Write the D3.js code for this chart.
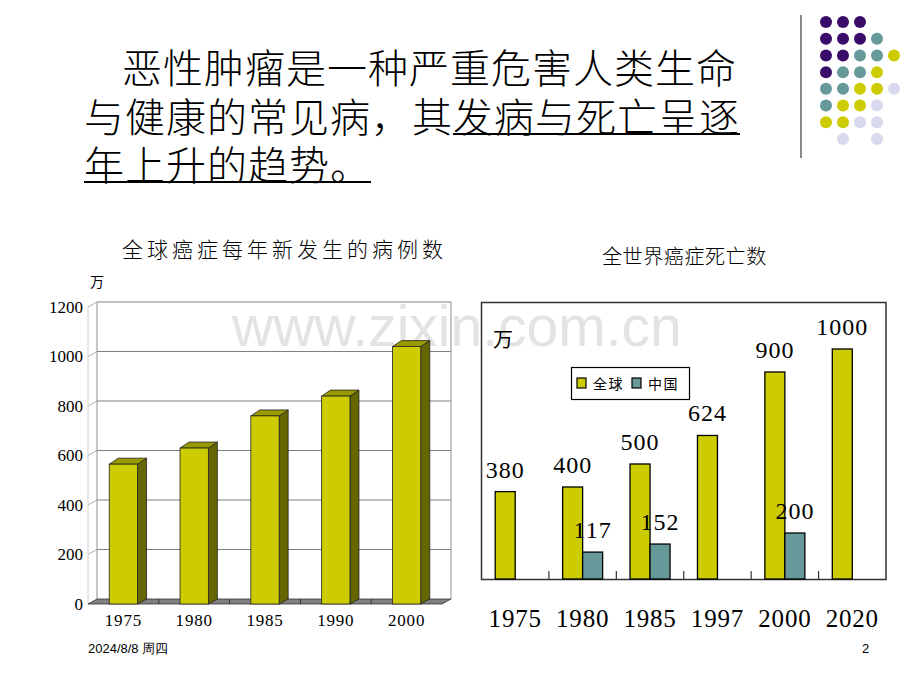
<!DOCTYPE html>
<html><head><meta charset="utf-8">
<script src="https://cdn.jsdelivr.net/npm/d3@7"></script>
<style>body{margin:0;background:#fff}svg{display:block}</style>
</head><body>
<svg id="c" width="920" height="690"></svg>
<script>
// ---- data ----
const headlineLines = ["恶性肿瘤是一种严重危害人类生命", "与健康的常见病，其发病与死亡呈逐", "年上升的趋势。"];
const leftTitle = "全球癌症每年新发生的病例数";
const rightTitle = "全世界癌症死亡数";
const unitLabel = "万";
const newCaseYears = ["1975", "1980", "1985", "1990", "2000"];
const newCases = [565, 630, 760, 840, 1040];
const newCaseTicks = [0, 200, 400, 600, 800, 1000, 1200];
const deathYears = ["1975", "1980", "1985", "1997", "2000", "2020"];
const seriesNames = ["全球", "中国"];
const deathsGlobal = [380, 400, 500, 624, 900, 1000];
const deathsChina = [null, 117, 152, null, 200, null];
const footerDate = "2024/8/8 周四";
const pageNumber = "2";
const dotRows = ["PPP..", "PPPT.", "PPTTY", "PTTY.", "TTYYL", "TYYL.", "YYLL.", ".L.L."];

const C = {yellow: "#cccc00", top: "#999900", side: "#666600", teal: "#669999",
  P: "#3a0c6a", T: "#669999", Y: "#cccc00", L: "#d8d8ee"};
const CJK = "'Noto Sans CJK SC', sans-serif";
const SERIF = "'Liberation Serif', 'DejaVu Serif', serif";

const svg = d3.select("#c");

// ---- decoration ----
svg.append("line").attr("x1", 801).attr("x2", 801).attr("y1", 15).attr("y2", 158)
  .attr("stroke", "#8a8a8a").attr("stroke-width", 2);
const dx = d3.scalePoint().domain(d3.range(5)).range([826, 894]);
const dy = d3.scalePoint().domain(d3.range(8)).range([22, 139]);
dotRows.forEach((row, r) => row.split("").forEach((ch, c) => {
  if (ch !== ".") svg.append("circle").attr("cx", dx(c)).attr("cy", dy(r)).attr("r", 6).attr("fill", C[ch]);
}));

// ---- headline ----
const hl = svg.append("g").attr("font-family", CJK).attr("font-size", 40).attr("font-weight", 300).attr("fill", "#000");
const hlX = [122, 84, 84], hlY = [66, 115, 163];
const lineEls = headlineLines.map((t, i) => hl.append("text").attr("x", hlX[i]).attr("y", hlY[i])
  .attr("dominant-baseline", "central").attr("letter-spacing", 1).text(t));
{
  const el2 = lineEls[1].node();
  const s = el2.getStartPositionOfChar(9).x;
  const e = hlX[1] + el2.getComputedTextLength();
  hl.append("line").attr("x1", s).attr("x2", e).attr("y1", 134).attr("y2", 134).attr("stroke", "#000").attr("stroke-width", 2);
  const e3 = hlX[2] + lineEls[2].node().getComputedTextLength();
  hl.append("line").attr("x1", hlX[2]).attr("x2", e3).attr("y1", 182).attr("y2", 182).attr("stroke", "#000").attr("stroke-width", 2);
}

// ---- watermark ----
svg.append("text").attr("x", 232).attr("y", 346).attr("font-family", "'Liberation Sans', Arial, sans-serif")
  .attr("font-size", 57).attr("fill", "#e3e3e3").text("www.zixin.com.cn");

// ---- left 3D chart ----
const DX = 9, DY = -5;
const xL = d3.scaleBand().domain(newCaseYears).range([88, 442]);
const yL = d3.scaleLinear().domain([0, 1200]).range([604, 307]);
const gL = svg.append("g");
svg.append("text").attr("x", 122).attr("y", 257).attr("font-family", CJK).attr("font-size", 21)
  .attr("font-weight", 300).attr("letter-spacing", 4).text(leftTitle);
svg.append("text").attr("x", 90).attr("y", 287).attr("font-family", CJK).attr("font-size", 14).text(unitLabel);

// walls & grid
newCaseTicks.filter(t => t > 0).forEach(t => {
  const y = yL(t);
  gL.append("path").attr("d", `M88,${y}L${88 + DX},${y + DY}`).attr("fill", "none").attr("stroke", "#b0b0b0");
  gL.append("path").attr("d", `M${88 + DX},${y + DY}L${442 + DX},${y + DY}`).attr("fill", "none").attr("stroke", "#808080");
});
gL.append("line").attr("x1", 88).attr("x2", 88).attr("y1", yL(1200)).attr("y2", yL(0)).attr("stroke", "#d0d0d0");
gL.append("line").attr("x1", 88 + DX).attr("x2", 88 + DX).attr("y1", yL(1200) + DY).attr("y2", yL(0) + DY).attr("stroke", "#909090");
gL.append("line").attr("x1", 442 + DX).attr("x2", 442 + DX).attr("y1", yL(1200) + DY).attr("y2", yL(0) + DY).attr("stroke", "#909090");
// floor
gL.append("path").attr("d", `M88,${yL(0)}L${88 + DX},${yL(0) + DY}L${442 + DX},${yL(0) + DY}L442,${yL(0)}Z`)
  .attr("fill", "#808080").attr("stroke", "#333").attr("stroke-width", 0.8);
newCaseYears.slice(1).forEach(d => {
  const x = xL(d);
  gL.append("line").attr("x1", x).attr("x2", x).attr("y1", yL(0) + DY).attr("y2", yL(0)).attr("stroke", "#333");
});
// bars
const bw = xL.bandwidth() * 0.4;
newCaseYears.forEach((d, i) => {
  const x = xL(d) + (xL.bandwidth() - bw) / 2, y = yL(newCases[i]), y0 = yL(0);
  gL.append("path").attr("d", `M${x + bw},${y}L${x + bw + DX},${y + DY - 1}L${x + bw + DX},${y0 + DY}L${x + bw},${y0}Z`)
    .attr("fill", C.side).attr("stroke", "#222").attr("stroke-width", 0.8);
  gL.append("path").attr("d", `M${x},${y}L${x + DX},${y + DY - 1}L${x + bw + DX},${y + DY - 1}L${x + bw},${y}Z`)
    .attr("fill", C.top).attr("stroke", "#222").attr("stroke-width", 0.8);
  gL.append("rect").attr("x", x).attr("y", y).attr("width", bw).attr("height", y0 - y)
    .attr("fill", C.yellow).attr("stroke", "#222").attr("stroke-width", 0.8);
});
// axes
const axL = gL.append("g").attr("transform", "translate(88,0)")
  .call(d3.axisLeft(yL).tickValues(newCaseTicks).tickFormat(d3.format("d")).tickSize(0).tickPadding(5));
axL.select(".domain").remove();
axL.selectAll("text").attr("font-family", SERIF).attr("font-size", 17).attr("fill", "#000");
const axLB = gL.append("g").attr("transform", `translate(0,${yL(0)})`)
  .call(d3.axisBottom(xL).tickSize(0).tickPadding(10));
axLB.select(".domain").remove();
axLB.selectAll("text").attr("font-family", SERIF).attr("font-size", 17).attr("fill", "#000").attr("letter-spacing", 0.8);

// ---- right chart ----
const xR = d3.scaleBand().domain(deathYears).range([481.5, 886]);
const xIn = d3.scaleBand().domain(seriesNames).range([0, 40]);
const yR = d3.scaleLinear().domain([0, 1000]).range([579, 349]);
const gR = svg.append("g");
svg.append("text").attr("x", 602).attr("y", 264).attr("font-family", CJK).attr("font-size", 20)
  .attr("font-weight", 300).attr("letter-spacing", 0.6).text(rightTitle);
gR.append("rect").attr("x", 481.5).attr("y", 302.5).attr("width", 404.5).attr("height", 277)
  .attr("fill", "none").attr("stroke", "#333").attr("stroke-width", 1.5);
deathYears.slice(1).forEach(d => {
  gR.append("line").attr("x1", xR(d)).attr("x2", xR(d)).attr("y1", 579).attr("y2", 571).attr("stroke", "#333").attr("stroke-width", 1.2);
});
gR.append("text").attr("x", 493).attr("y", 338).attr("dominant-baseline", "central")
  .attr("font-family", CJK).attr("font-size", 20).text(unitLabel);
const series = [{name: seriesNames[0], vals: deathsGlobal, color: C.yellow},
                {name: seriesNames[1], vals: deathsChina, color: C.teal}];
const off = (xR.bandwidth() - 40) / 2;
series.forEach(s => deathYears.forEach((d, i) => {
  const v = s.vals[i];
  if (v == null) return;
  gR.append("rect").attr("x", xR(d) + off + xIn(s.name)).attr("y", yR(v))
    .attr("width", xIn.bandwidth()).attr("height", yR(0) - yR(v))
    .attr("fill", s.color).attr("stroke", "#000").attr("stroke-width", 1.3);
}));
series.forEach(s => deathYears.forEach((d, i) => {
  const v = s.vals[i];
  if (v == null) return;
  gR.append("text").attr("x", xR(d) + off + xIn(s.name) + xIn.bandwidth() / 2).attr("y", yR(v) - 14)
    .attr("text-anchor", "middle").attr("font-family", SERIF).attr("font-size", 24).attr("letter-spacing", 1).text(v);
}));
const axRB = gR.append("g").attr("transform", "translate(0,579)")
  .call(d3.axisBottom(xR).tickSize(0).tickPadding(30));
axRB.select(".domain").remove();
axRB.selectAll("text").attr("font-family", SERIF).attr("font-size", 25).attr("fill", "#000").attr("letter-spacing", 0.8);
// legend
const lg = gR.append("g");
lg.append("rect").attr("x", 571.5).attr("y", 367.5).attr("width", 118).attr("height", 32)
  .attr("fill", "#fff").attr("stroke", "#000").attr("stroke-width", 1.2);
const lx = [577, 632];
series.forEach((s, i) => {
  lg.append("rect").attr("x", lx[i]).attr("y", 378).attr("width", 9).attr("height", 10)
    .attr("fill", s.color).attr("stroke", "#000").attr("stroke-width", 1.2);
  lg.append("text").attr("x", lx[i] + 16).attr("y", 383).attr("dominant-baseline", "central")
    .attr("font-family", CJK).attr("font-size", 14).attr("letter-spacing", 1.5).text(s.name);
});

// ---- footer ----
svg.append("text").attr("x", 88).attr("y", 653).attr("font-family", "'Liberation Sans Narrow', 'Liberation Sans', Arial, sans-serif")
  .attr("font-size", 13).text(footerDate);
svg.append("text").attr("x", 862).attr("y", 653).attr("font-family", "'Liberation Sans Narrow', 'Liberation Sans', Arial, sans-serif")
  .attr("font-size", 13).text(pageNumber);
</script>
</body></html>
